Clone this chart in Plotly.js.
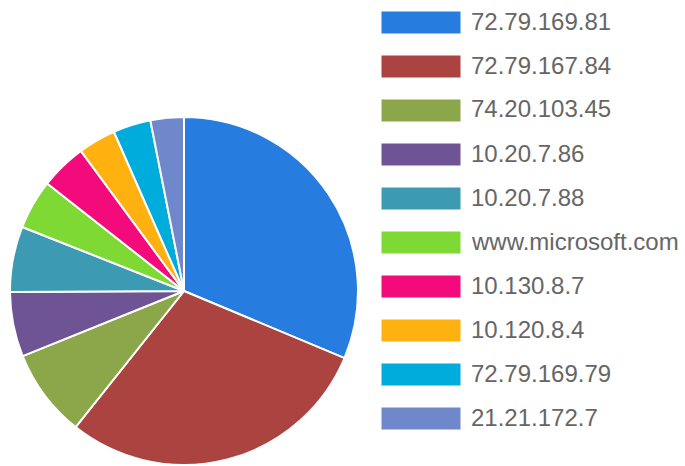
<!DOCTYPE html>
<html>
<head>
<meta charset="utf-8">
<script src="https://cdn.plot.ly/plotly-3.0.1.min.js"></script>
<style>html,body{margin:0;padding:0;background:#fff;}#chart{width:685px;height:466px;}</style>
</head>
<body>
<div id="chart"></div>
<script>
var labels = ["72.79.169.81", "72.79.167.84", "74.20.103.45", "10.20.7.86", "10.20.7.88",
              "www.microsoft.com", "10.130.8.7", "10.120.8.4", "72.79.169.79", "21.21.172.7"];
var values = [313, 294, 82, 60, 61, 46, 43, 35, 35, 31];
var colors = ["#277ddf", "#ab4340", "#8ca64a", "#6e5494", "#3d9ab3",
              "#7fd935", "#f30a7b", "#ffb20f", "#00acdb", "#6e88cb"];

var W = 685, H = 466;
var cx = 184, cy = 291, r = 174;

var trace = {
  type: "pie",
  labels: labels,
  values: values,
  sort: false,
  direction: "clockwise",
  rotation: 0,
  textinfo: "none",
  hoverinfo: "none",
  marker: { colors: colors, line: { color: "#ffffff", width: 2 } },
  domain: { x: [(cx - r) / W, (cx + r) / W], y: [1 - (cy + r) / H, 1 - (cy - r) / H] },
  showlegend: false
};

var shapes = [], annotations = [];
var legX0 = 381, legX1 = 461, legY0 = 11, legStep = 44, legH = 23;
for (var i = 0; i < labels.length; i++) {
  var y0 = legY0 + i * legStep;
  shapes.push({
    type: "rect", xref: "paper", yref: "paper",
    x0: legX0 / W, x1: legX1 / W, y0: 1 - y0 / H, y1: 1 - (y0 + legH) / H,
    fillcolor: colors[i], line: { color: "#ffffff", width: 1 }
  });
  annotations.push({
    xref: "paper", yref: "paper", x: 469 / W, y: 1 - (y0 + legH / 2 - 1.5) / H,
    xanchor: "left", yanchor: "middle", showarrow: false, text: labels[i],
    font: { family: "Liberation Sans, Arial, sans-serif", size: 24, color: "#666666" }
  });
}

var layout = {
  width: W, height: H,
  margin: { l: 0, r: 0, t: 0, b: 0 },
  paper_bgcolor: "#ffffff",
  showlegend: false,
  shapes: shapes,
  annotations: annotations
};

Plotly.newPlot("chart", [trace], layout, { displayModeBar: false, staticPlot: true });
</script>
</body>
</html>
